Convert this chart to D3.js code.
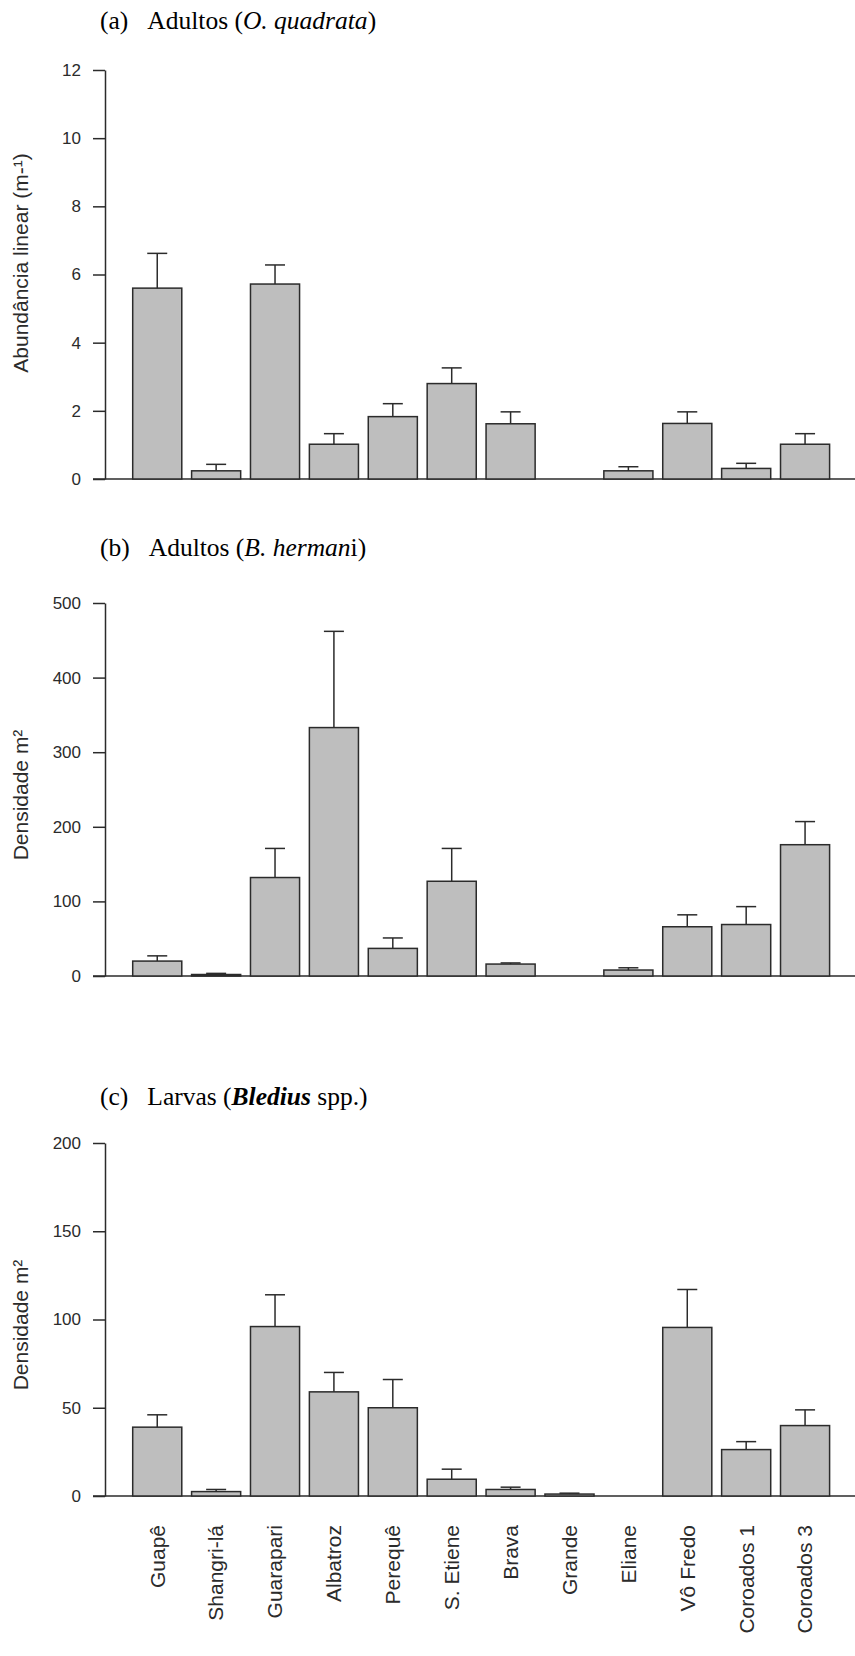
<!DOCTYPE html>
<html>
<head>
<meta charset="utf-8">
<script src="https://cdn.jsdelivr.net/npm/d3@7"></script>
<style>
    body { margin: 0; background: #fff; }
    svg { display: block; }
</style>
</head>
<body>
<svg id="chart" width="855" height="1656"></svg>
<script>
// sites along the coast, same order in all three panels
const sites = ["Guapê", "Shangri-lá", "Guarapari", "Albatroz", "Perequê", "S. Etiene",
    "Brava", "Grande", "Eliane", "Vô Fredo", "Coroados 1", "Coroados 3"];

// (a) adults O. quadrata, mean and mean + error
const quadrataMean = [5.6, 0.24, 5.72, 1.02, 1.83, 2.8, 1.62, 0, 0.24, 1.63, 0.31, 1.02];
const quadrataTop  = [6.62, 0.43, 6.28, 1.33, 2.21, 3.26, 1.97, 0, 0.36, 1.97, 0.46, 1.33];

// (b) adults B. hermani
const hermaniMean = [20, 2, 132, 333, 37, 127, 16, 0, 8, 66, 69, 176];
const hermaniTop  = [27, 3.5, 171, 462, 51, 171, 17.5, 0, 11, 82, 93, 207];

// (c) larvae Bledius spp.
const larvaeMean = [39, 2.5, 96, 59, 50, 9.5, 3.7, 1.1, 0, 95.5, 26.3, 39.9];
const larvaeTop  = [46, 3.7, 114, 70, 66, 15.2, 5, 1.6, 0, 117, 30.8, 48.8];

const ticksA = [0, 2, 4, 6, 8, 10, 12];
const ticksB = [0, 100, 200, 300, 400, 500];
const ticksC = [0, 50, 100, 150, 200];

const svg = d3.select("#chart");
const axisX = 105;
const ink = "#2b2b2b";
const sans = "'Liberation Sans', Arial, sans-serif";

const x = d3.scaleBand()
    .domain(sites)
    .range([132.7, 829.6])
    .paddingInner(1 / 6)
    .paddingOuter(0);

function drawPanel(opts) {
    const y = d3.scaleLinear()
        .domain([0, opts.max])
        .range([opts.bottom, opts.top]);

    const g = svg.append("g");

    // title in serif, like the word processor captions
    const title = g.append("text")
        .attr("x", 100)
        .attr("y", opts.titleY)
        .style("font-family", "'Liberation Serif', 'Times New Roman', serif")
        .style("font-size", "25.5px")
        .style("fill", "#000");
    opts.title.forEach(part => {
        title.append("tspan")
            .attr("dx", part.dx || 0)
            .style("font-style", part.italic ? "italic" : "normal")
            .style("font-weight", part.bold ? "bold" : "normal")
            .text(part.t);
    });

    // baseline
    g.append("line")
        .attr("x1", 93).attr("x2", 855)
        .attr("y1", y(0)).attr("y2", y(0))
        .style("stroke", ink)
        .style("stroke-width", 1.5);

    // y axis
    const yAxis = g.append("g")
        .attr("transform", `translate(${axisX},0)`)
        .call(d3.axisLeft(y)
            .tickValues(opts.ticks)
            .tickSize(12)
            .tickSizeOuter(0)
            .tickPadding(12));
    yAxis.select(".domain").style("stroke", ink).style("stroke-width", 1.5);
    yAxis.selectAll(".tick line").style("stroke", ink).style("stroke-width", 1.5);
    yAxis.selectAll(".tick text")
        .style("font-family", sans)
        .style("font-size", "17px")
        .style("fill", ink);

    // y label
    g.append("text")
        .attr("transform", `translate(28,${opts.labelY}) rotate(-90)`)
        .attr("text-anchor", "middle")
        .style("font-family", sans)
        .style("font-size", "21px")
        .style("fill", ink)
        .text(opts.ylab);

    const data = sites.map((s, i) => ({ site: s, mean: opts.mean[i], top: opts.upper[i] }))
        .filter(d => d.mean > 0);

    // bars
    g.append("g")
        .selectAll("rect")
        .data(data)
        .enter().append("rect")
        .attr("x", d => x(d.site))
        .attr("y", d => y(d.mean))
        .attr("width", x.bandwidth())
        .attr("height", d => y(0) - y(d.mean))
        .style("fill", "#bebebe")
        .style("stroke", ink)
        .style("stroke-width", 1.5);

    // error bars, upper half only
    const err = g.append("g")
        .selectAll("g")
        .data(data)
        .enter().append("g")
        .style("stroke", ink)
        .style("stroke-width", 1.5);

    err.append("line")
        .attr("x1", d => x(d.site) + x.bandwidth() / 2)
        .attr("x2", d => x(d.site) + x.bandwidth() / 2)
        .attr("y1", d => y(d.mean))
        .attr("y2", d => y(d.top));

    err.append("line")
        .attr("x1", d => x(d.site) + x.bandwidth() / 2 - 10)
        .attr("x2", d => x(d.site) + x.bandwidth() / 2 + 10)
        .attr("y1", d => y(d.top))
        .attr("y2", d => y(d.top));

    if (opts.names) {
        g.append("g")
            .selectAll("text")
            .data(sites)
            .enter().append("text")
            .attr("transform", d => `translate(${x(d) + x.bandwidth() / 2},${y(0) + 29}) rotate(-90)`)
            .attr("text-anchor", "end")
            .attr("dy", "0.35em")
            .style("font-family", sans)
            .style("font-size", "21px")
            .style("fill", ink)
            .text(d => d);
    }
}

drawPanel({
    title: [{ t: "(a)" }, { t: "Adultos (", dx: 19 }, { t: "O. quadrata", italic: true }, { t: ")" }],
    titleY: 29,
    max: 12, ticks: ticksA, top: 70, bottom: 479,
    ylab: "Abundância linear (m-¹)", labelY: 263,
    mean: quadrataMean, upper: quadrataTop
});

drawPanel({
    title: [{ t: "(b)" }, { t: "Adultos (", dx: 19 }, { t: "B. herman", italic: true }, { t: "i)" }],
    titleY: 556,
    max: 500, ticks: ticksB, top: 603, bottom: 976,
    ylab: "Densidade m²", labelY: 795,
    mean: hermaniMean, upper: hermaniTop
});

drawPanel({
    title: [{ t: "(c)" }, { t: "Larvas (", dx: 19 }, { t: "Bledius", italic: true, bold: true }, { t: " spp.)" }],
    titleY: 1105,
    max: 200, ticks: ticksC, top: 1143, bottom: 1496,
    ylab: "Densidade m²", labelY: 1325,
    mean: larvaeMean, upper: larvaeTop,
    names: true
});
</script>
</body>
</html>
